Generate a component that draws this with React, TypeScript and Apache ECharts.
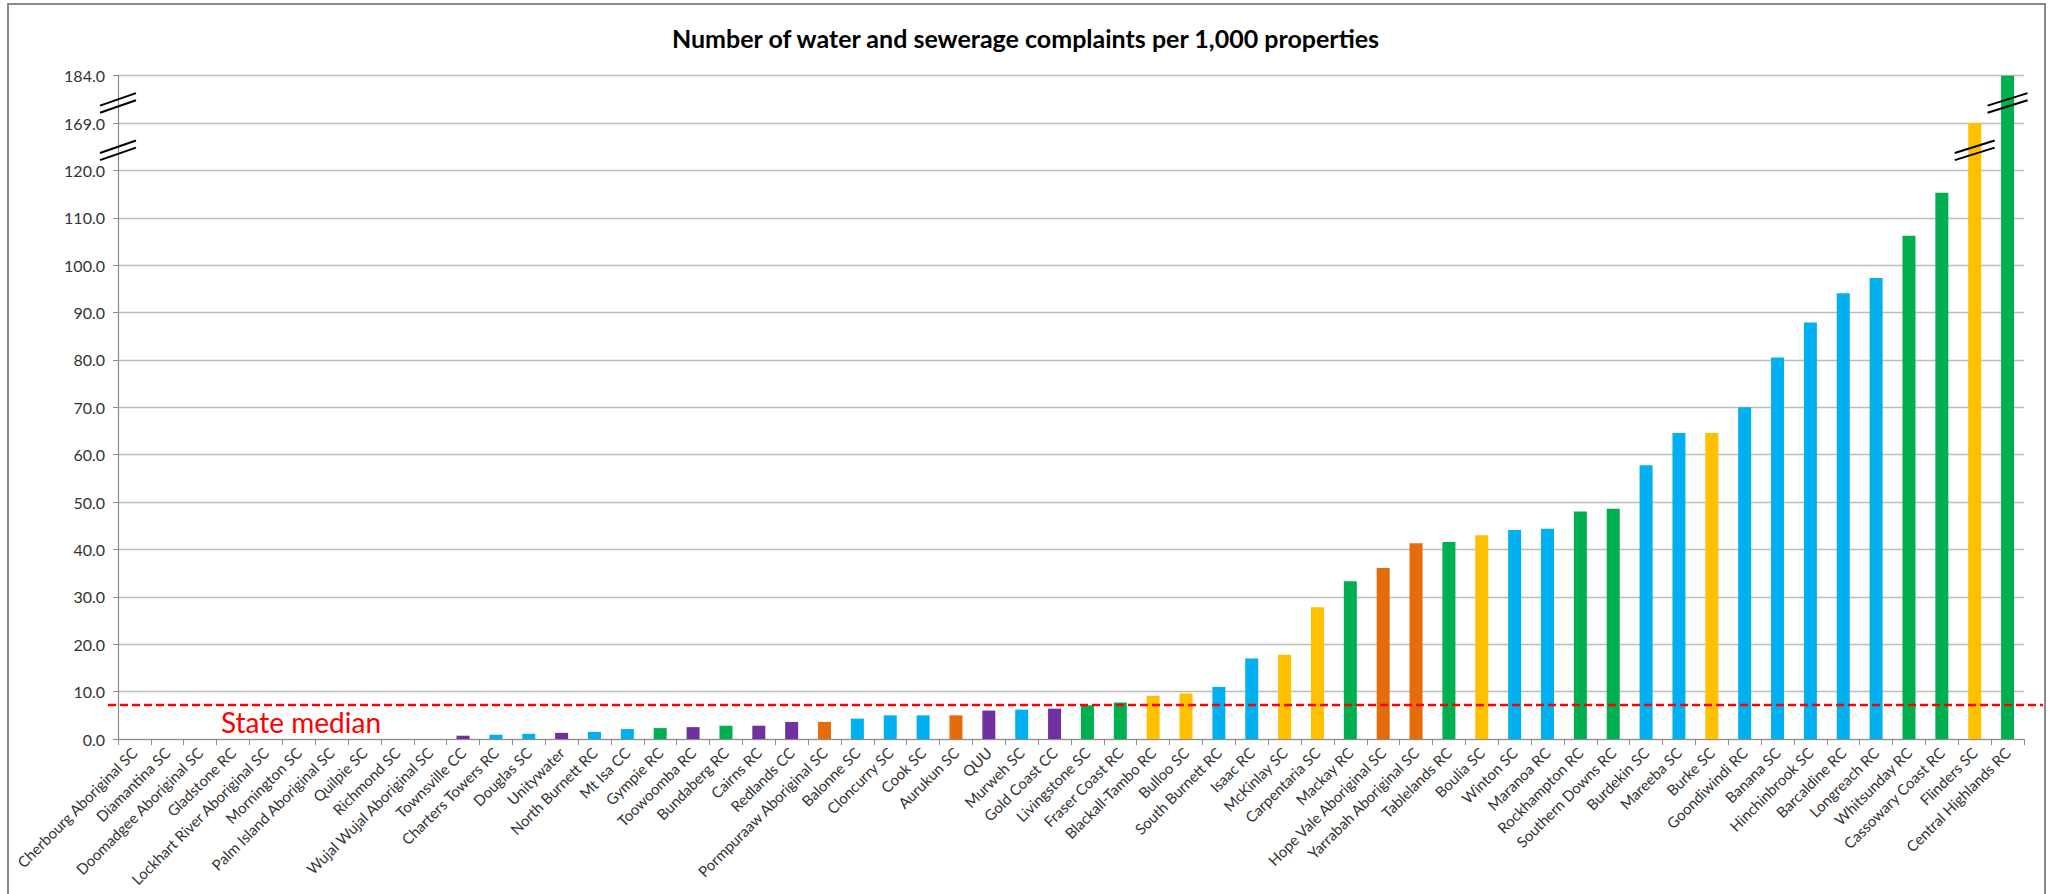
import React, { useEffect, useRef } from "react";
import * as echarts from "echarts";

const categories: string[] = [
  "Cherbourg Aboriginal SC", "Diamantina SC", "Doomadgee Aboriginal SC", "Gladstone RC",
  "Lockhart River Aboriginal SC", "Mornington SC", "Palm Island Aboriginal SC", "Quilpie SC",
  "Richmond SC", "Wujal Wujal Aboriginal SC", "Townsville CC", "Charters Towers RC",
  "Douglas SC", "Unitywater", "North Burnett RC", "Mt Isa CC", "Gympie RC", "Toowoomba RC",
  "Bundaberg RC", "Cairns RC", "Redlands CC", "Pormpuraaw Aboriginal SC", "Balonne SC",
  "Cloncurry SC", "Cook SC", "Aurukun SC", "QUU", "Murweh SC", "Gold Coast CC",
  "Livingstone SC", "Fraser Coast RC", "Blackall-Tambo RC", "Bulloo SC", "South Burnett RC",
  "Isaac RC", "McKinlay SC", "Carpentaria SC", "Mackay RC", "Hope Vale Aboriginal SC",
  "Yarrabah Aboriginal SC", "Tablelands RC", "Boulia SC", "Winton SC", "Maranoa RC",
  "Rockhampton RC", "Southern Downs RC", "Burdekin SC", "Mareeba SC", "Burke SC",
  "Goondiwindi RC", "Banana SC", "Hinchinbrook SC", "Barcaldine RC", "Longreach RC",
  "Whitsunday RC", "Cassowary Coast RC", "Flinders SC", "Central Highlands RC",
];

const values: number[] = [
  0, 0, 0, 0, 0, 0, 0, 0, 0, 0,
  0.7, 0.9, 1.1, 1.3, 1.5, 2.1, 2.3, 2.5, 2.8, 2.8,
  3.6, 3.6, 4.3, 5.0, 5.0, 5.0, 6.0, 6.2, 6.4, 7.1,
  7.7, 9.1, 9.6, 11.0, 17.0, 17.8, 27.8, 33.3, 36.1, 41.3,
  41.6, 43.0, 44.1, 44.4, 48.0, 48.6, 57.8, 64.6, 64.6, 70.0,
  80.5, 87.9, 94.1, 97.3, 106.2, 115.3, 169.0, 184.0,
];

// B = blue, G = green, Y = yellow, O = orange, P = purple
const groups: string[] = [
  "B", "B", "B", "B", "B", "B", "B", "B", "B", "B",
  "P", "B", "B", "P", "B", "B", "G", "P", "G", "P",
  "P", "O", "B", "B", "B", "O", "P", "B", "P", "G",
  "G", "Y", "Y", "B", "B", "Y", "Y", "G", "O", "O",
  "G", "Y", "B", "B", "G", "G", "B", "B", "Y", "B",
  "B", "B", "B", "B", "G", "G", "Y", "G",
];

const palette: Record<string, string> = {
  B: "#00B0F0",
  G: "#00B050",
  Y: "#FFC000",
  O: "#E46C0A",
  P: "#7030A0",
};

const stateMedian = 7.2;
// broken axis: linear to 120, then one step each for 169 and 184
const breakPoints: number[] = [120, 169, 184];
const breakSteps: number[] = [120, 130, 140];
const barBreaks: { name: string; at: number }[] = [
  { name: "Flinders SC", at: 125 },
  { name: "Central Highlands RC", at: 135 },
];
const axisBreaks: number[] = [125, 135];

const toAxis = (v: number): number => {
  if (v <= breakPoints[0]) return v;
  for (let i = 1; i < breakPoints.length; i++) {
    if (v <= breakPoints[i]) {
      const a = breakPoints[i - 1], b = breakPoints[i];
      return breakSteps[i - 1] + ((v - a) / (b - a)) * (breakSteps[i] - breakSteps[i - 1]);
    }
  }
  return breakSteps[breakSteps.length - 1];
};
const fromAxis = (t: number): number => {
  if (t <= breakSteps[0]) return t;
  for (let i = 1; i < breakSteps.length; i++) {
    if (t <= breakSteps[i]) {
      const a = breakSteps[i - 1], b = breakSteps[i];
      return breakPoints[i - 1] + ((t - a) / (b - a)) * (breakPoints[i] - breakPoints[i - 1]);
    }
  }
  return breakPoints[breakPoints.length - 1];
};

const FONT = "Lato, 'Open Sans', sans-serif";

export default function App() {
  const ref = useRef<HTMLDivElement>(null);
  useEffect(() => {
    if (!ref.current) return;
    const chart = echarts.init(ref.current, null, { renderer: "svg" });
    const option: any = {
      animation: false,
      backgroundColor: "#ffffff",
      title: {
        text: "Number of water and sewerage complaints per 1,000 properties",
        left: "center",
        top: 20,
        textStyle: { fontFamily: FONT, fontSize: 25, fontWeight: "bold", color: "#000000" },
      },
      grid: { left: 118, right: 27, top: 75.7, bottom: 155, containLabel: false },
      xAxis: {
        type: "category",
        data: categories,
        boundaryGap: true,
        axisLine: { lineStyle: { color: "#8C8C8C", width: 1.2 } },
        axisTick: { show: true, length: 6, alignWithLabel: false, lineStyle: { color: "#8C8C8C" } },
        axisLabel: {
          interval: 0,
          rotate: 45,
          margin: 11,
          fontFamily: FONT,
          fontSize: 15,
          color: "#333333",
        },
      },
      yAxis: {
        type: "value",
        min: 0,
        max: 140,
        interval: 10,
        axisLine: { show: true, lineStyle: { color: "#8C8C8C", width: 1.2 } },
        axisTick: { show: true, length: 5, lineStyle: { color: "#8C8C8C" } },
        splitLine: { show: true, lineStyle: { color: "#BDBDBD", width: 1.3 } },
        axisLabel: {
          margin: 13,
          fontFamily: FONT,
          fontSize: 16,
          color: "#333333",
          formatter: (t: number) => fromAxis(t).toFixed(1),
        },
      },
      series: [
        {
          type: "bar",
          barWidth: 13,
          data: values.map((v, i) => ({
            value: toAxis(v),
            itemStyle: { color: palette[groups[i]] },
          })),
        },
      ],
    };
    chart.setOption(option);

    const py = (v: number) => chart.convertToPixel({ yAxisIndex: 0 }, v) as number;
    const px = (i: number) => chart.convertToPixel({ xAxisIndex: 0 }, i) as number;

    const breakMark = (cx: number, cy: number, half: number) => [
      {
        type: "line",
        shape: { x1: cx - half, y1: cy + 2.6, x2: cx + half, y2: cy - 9.9 },
        style: { stroke: "#000000", lineWidth: 2 },
        z: 100,
      },
      {
        type: "line",
        shape: { x1: cx - half, y1: cy + 9.8, x2: cx + half, y2: cy - 2.7 },
        style: { stroke: "#000000", lineWidth: 2 },
        z: 100,
      },
    ];

    const axisX = px(0) - (px(1) - px(0)) / 2;
    const yMed = py(stateMedian);
    const graphics: any[] = [
      {
        type: "rect",
        shape: { x: 8, y: 4, width: 2037, height: 900 },
        style: { fill: "none", stroke: "#8A8A8A", lineWidth: 2 },
        z: 50,
      },
      {
        type: "line",
        shape: { x1: 108, y1: yMed, x2: 2043, y2: yMed },
        style: { stroke: "#FF0000", lineWidth: 2.5, lineDash: [8, 4] },
        z: 60,
      },
      {
        type: "text",
        x: 221,
        y: yMed + 17,
        style: {
          text: "State median",
          fill: "#FF0000",
          fontFamily: FONT,
          fontSize: 28,
          textAlign: "left",
          textVerticalAlign: "middle",
        },
        z: 60,
      },
    ];
    axisBreaks.forEach((b) => {
      graphics.push(...breakMark(axisX, py(b) + 3.6, 18));
    });
    barBreaks.forEach((bb) => {
      const idx = categories.indexOf(bb.name);
      graphics.push(...breakMark(px(idx), py(bb.at) + 3.6, 20));
    });
    chart.setOption({ graphic: graphics });

    return () => chart.dispose();
  }, []);
  return (
    <div
      ref={ref}
      style={{ position: "absolute", left: 0, top: 0, width: 2051, height: 894, background: "#fff" }}
    />
  );
}
